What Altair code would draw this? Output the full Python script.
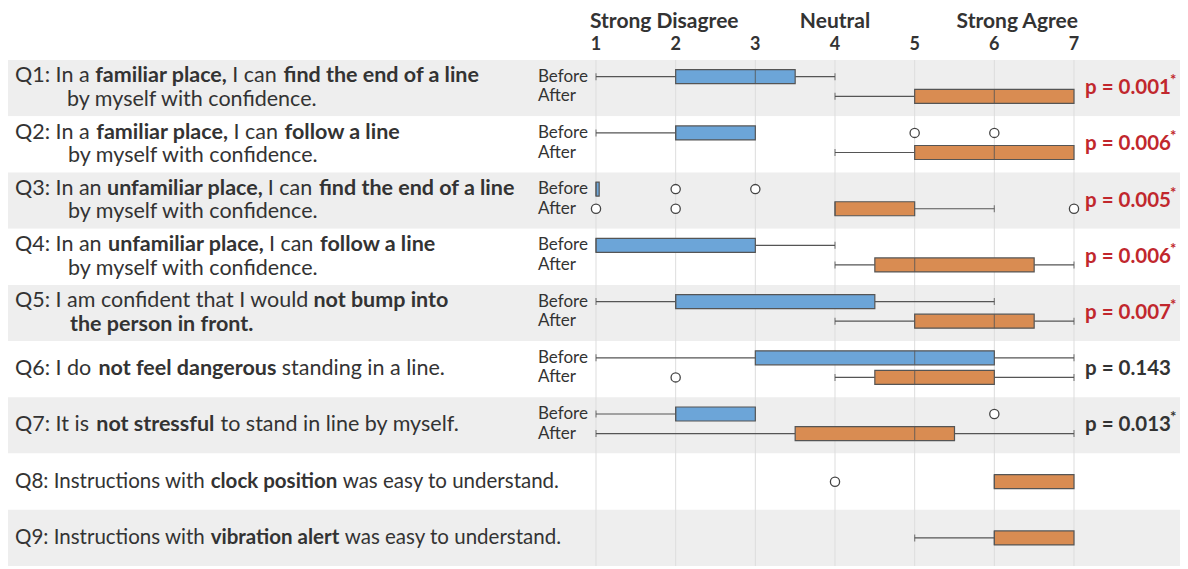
import altair as alt
import pandas as pd

# ---------------- data ----------------
questions = ["Q1", "Q2", "Q3", "Q4", "Q5", "Q6", "Q7", "Q8", "Q9"]

# question wording, split into (text, is_bold) runs per line
question_text = [
    [[("Q1: In a", 0), ("familiar place,", 1), ("I can", 0), ("find the end of a line", 1)],
     [("by myself with confidence.", 0)]],
    [[("Q2: In a", 0), ("familiar place,", 1), ("I can", 0), ("follow a line", 1)],
     [("by myself with confidence.", 0)]],
    [[("Q3: In an", 0), ("unfamiliar place,", 1), ("I can", 0), ("find the end of a line", 1)],
     [("by myself with confidence.", 0)]],
    [[("Q4: In an", 0), ("unfamiliar place,", 1), ("I can", 0), ("follow a line", 1)],
     [("by myself with confidence.", 0)]],
    [[("Q5: I am confident that I would", 0), ("not bump into", 1)],
     [("the person in front.", 1)]],
    [[("Q6: I do", 0), ("not feel dangerous", 1), ("standing in a line.", 0)]],
    [[("Q7: It is", 0), ("not stressful", 1), ("to stand in line by myself.", 0)]],
    [[("Q8: Instructions with", 0), ("clock position", 1), ("was easy to understand.", 0)]],
    [[("Q9: Instructions with", 0), ("vibration alert", 1), ("was easy to understand.", 0)]],
]

# box stats: [whisker_low, q1, median, q3, whisker_high]
before_stats = {
    "Q1": [1, 2, 3, 3.5, 4],
    "Q2": [1, 2, 2, 3, 3],
    "Q3": [1, 1, 1, 1.04, 1.04],
    "Q4": [1, 1, 1, 3, 4],
    "Q5": [1, 2, 2, 4.5, 6],
    "Q6": [1, 3, 5, 6, 7],
    "Q7": [1, 2, 2, 3, 3],
}
after_stats = {
    "Q1": [4, 5, 6, 7, 7],
    "Q2": [4, 5, 6, 7, 7],
    "Q3": [4, 4, 4, 5, 6],
    "Q4": [4, 4.5, 5, 6.5, 7],
    "Q5": [4, 5, 6, 6.5, 7],
    "Q6": [4, 4.5, 5, 6, 7],
    "Q7": [1, 3.5, 5, 5.5, 7],
    "Q8": [6, 6, 6, 7, 7],
    "Q9": [5, 6, 6, 7, 7],
}
before_outliers = {"Q2": [5, 6], "Q3": [2, 3], "Q7": [6]}
after_outliers = {"Q3": [1, 2, 7], "Q6": [2], "Q8": [4]}

p_values = ["0.001", "0.006", "0.005", "0.006", "0.007", "0.143", "0.013"]
p_starred = [True, True, True, True, True, False, True]
p_red = [True, True, True, True, True, False, False]

scale_ticks = [1, 2, 3, 4, 5, 6, 7]
scale_anchors = [("Strong Disagree", 1), ("Neutral", 4), ("Strong Agree", 7)]

# ---------------- layout (pixels, not data) ----------------
W, H, TOP = 1172, 516, 47
X1_PX, X7_PX = 588.0, 1066.0
PPU = (X7_PX - X1_PX) / 6.0
ROW_PX = H / 9.0

def px_to_val(px):
    return 1 + (px - X1_PX) / PPU

X_DOMAIN = [px_to_val(0), px_to_val(W)]
OFF_BEFORE, OFF_AFTER, OFF_SINGLE = 17.0 / ROW_PX, 37.0 / ROW_PX, 0.5
LINE_OFFS = {1: [0.5], 2: [0.29, 0.71]}

row_font = [21.5, 21.5, 21.5, 21.5, 21.5, 21.5, 21.5, 20.5, 20.5]
# run widths measured at 20px, used to chain the runs of a line
seg_w20 = [
    [[69, 122, 42, 182], [232]],
    [[70, 122, 42, 107], [232]],
    [[80, 144, 42, 182], [232]],
    [[81, 144, 42, 107], [232]],
    [[272, 125], [171]],
    [[72, 165, 151]],
    [[70, 110, 221]],
    [[185, 123, 211]],
    [[185, 125, 211]],
]
line_start_px = [[7, 59], [7, 60], [7, 60], [7, 60], [7, 62], [7], [7], [7], [7]]
SPACE_PX = 6.0

FONT = "Lato"
TXT = "#333333"
BLUE, ORANGE = "#6ca5d8", "#d98c52"
EDGE = "#555555"
RED = "#c1272d"

# ---------------- tables ----------------
bg = pd.DataFrame({"row": list(range(9))})
bg["row2"] = bg["row"] + 1
bg["shade"] = ["g" if i % 2 == 0 else "w" for i in range(9)]

def row_offset(q, grp):
    if q in before_stats:
        return OFF_BEFORE if grp == "Before" else OFF_AFTER
    return OFF_SINGLE

box_rows = []
for i, q in enumerate(questions):
    for grp, stats in (("Before", before_stats), ("After", after_stats)):
        if q not in stats:
            continue
        wl, b1, md, b3, wh = stats[q]
        box_rows.append(dict(q=q, group=grp, y=i + row_offset(q, grp),
                             wlo=wl, q1=b1, med=md, q3=b3, whi=wh))
boxes = pd.DataFrame(box_rows)

whisk_rows, cap_rows = [], []
for r in box_rows:
    if r["wlo"] < r["q1"]:
        whisk_rows.append(dict(y=r["y"], a=r["wlo"], b=r["q1"]))
        cap_rows.append(dict(y=r["y"], x=r["wlo"]))
    if r["whi"] > r["q3"]:
        whisk_rows.append(dict(y=r["y"], a=r["q3"], b=r["whi"]))
        cap_rows.append(dict(y=r["y"], x=r["whi"]))
whiskers = pd.DataFrame(whisk_rows)
caps = pd.DataFrame(cap_rows)

out_rows = []
for i, q in enumerate(questions):
    for grp, outs in (("Before", before_outliers), ("After", after_outliers)):
        for v in outs.get(q, []):
            out_rows.append(dict(y=i + row_offset(q, grp), x=v))
outliers = pd.DataFrame(out_rows)

grp_rows = []
for i, q in enumerate(questions):
    if q in before_stats:
        grp_rows.append(dict(label="Before", y=i + OFF_BEFORE, x=1))
        grp_rows.append(dict(label="After", y=i + OFF_AFTER, x=1))
grp_labels = pd.DataFrame(grp_rows)

seg_rows = []
for i, lines in enumerate(question_text):
    offs = LINE_OFFS[len(lines)]
    k = row_font[i] / 20.0
    for li, line in enumerate(lines):
        cur = line_start_px[i][li]
        for si, (txt, bold) in enumerate(line):
            seg_rows.append(dict(text=txt, bold=bold, y=i + offs[li], x=px_to_val(cur), fs=row_font[i]))
            cur += seg_w20[i][li][si] * k + SPACE_PX
segs = pd.DataFrame(seg_rows)

pdf = pd.DataFrame({
    "y": [i + 0.5 for i in range(len(p_values))],
    "x": [7] * len(p_values),
    "text": ["p = " + p for p in p_values],
    "star": ["*" if s else "" for s in p_starred],
    "red": p_red,
})

ticks_df = pd.DataFrame({"v": scale_ticks, "lab": [str(t) for t in scale_ticks],
                         "y0": [0] * 7, "y1": [9] * 7})

# ---------------- chart ----------------
xs = alt.Scale(domain=X_DOMAIN, nice=False, zero=False)
ys = alt.Scale(domain=[0, 9], reverse=True, nice=False, zero=False)

def X(f):
    return alt.X(f, type="quantitative", scale=xs, axis=None)

def Y(f):
    return alt.Y(f, type="quantitative", scale=ys, axis=None)

background = alt.Chart(bg).mark_rect().encode(
    x=alt.value(0), x2=alt.value(W),
    y=Y("row"), y2="row2",
    fill=alt.Fill("shade:N", scale=alt.Scale(domain=["g", "w"], range=["#eeeeee", "#ffffff"]), legend=None),
)

grid = alt.Chart(ticks_df).mark_rule(color="#dddddd", strokeWidth=1).encode(
    x=X("v"), y=Y("y0"), y2="y1",
)

whisker_layer = alt.Chart(whiskers).mark_rule(color=EDGE, strokeWidth=1.2).encode(
    x=X("a"), x2="b", y=Y("y"),
)
cap_layer = alt.Chart(caps).mark_tick(orient="vertical", size=7, thickness=1.2, color=EDGE).encode(
    x=X("x"), y=Y("y"),
)
box_layer = alt.Chart(boxes).mark_bar(size=14, orient="horizontal", stroke=EDGE, strokeWidth=1.2).encode(
    x=X("q1"), x2="q3", y=Y("y"),
    color=alt.Color("group:N", scale=alt.Scale(domain=["Before", "After"], range=[BLUE, ORANGE]), legend=None),
)
median_layer = alt.Chart(boxes).mark_tick(orient="vertical", size=14, thickness=1.2, color=EDGE).encode(
    x=X("med"), y=Y("y"),
)
outlier_layer = alt.Chart(outliers).mark_point(
    shape="circle", size=85, filled=True, color="white", stroke="#444444", strokeWidth=1.3, opacity=1
).encode(x=X("x"), y=Y("y"))

group_text = alt.Chart(grp_labels).mark_text(
    align="left", baseline="middle", dx=-58, font=FONT, fontSize=17, color=TXT
).encode(x=X("x"), y=Y("y"), text="label:N")

q_regular = alt.Chart(segs).transform_filter("datum.bold == 0").mark_text(
    align="left", baseline="middle", font=FONT, color=TXT
).encode(x=X("x"), y=Y("y"), text="text:N", size=alt.Size("fs:Q", scale=None))
q_bold = alt.Chart(segs).transform_filter("datum.bold == 1").mark_text(
    align="left", baseline="middle", font=FONT, fontWeight="bold", color=TXT
).encode(x=X("x"), y=Y("y"), text="text:N", size=alt.Size("fs:Q", scale=None))

p_layers = []
for flag, col in ((True, RED), (False, TXT)):
    sub = alt.Chart(pdf).transform_filter(f"datum.red == {'true' if flag else 'false'}")
    p_layers.append(sub.mark_text(
        align="left", baseline="middle", dx=11, font=FONT, fontSize=20.5, fontWeight="bold", color=col
    ).encode(x=X("x"), y=Y("y"), text="text:N"))
    p_layers.append(sub.mark_text(
        align="left", baseline="middle", dx=96, dy=-8, font=FONT, fontSize=15, fontWeight="bold", color=col
    ).encode(x=X("x"), y=Y("y"), text="star:N"))

tick_labels = alt.Chart(ticks_df).mark_text(
    align="center", baseline="alphabetic", font=FONT, fontSize=18, fontWeight="bold", color=TXT
).encode(x=X("v"), y=alt.value(-5.5), text="lab:N")

anchor_layers = []
for (lab, v), al, dx in zip(scale_anchors, ["left", "center", "right"], [-6, 0, 4]):
    anchor_layers.append(
        alt.Chart(pd.DataFrame({"v": [v], "lab": [lab]})).mark_text(
            align=al, baseline="alphabetic", dx=dx, font=FONT, fontSize=21, fontWeight="bold", color=TXT
        ).encode(x=X("v"), y=alt.value(-27), text="lab:N")
    )

chart = alt.layer(
    background, grid, whisker_layer, cap_layer, box_layer, median_layer, outlier_layer,
    group_text, q_regular, q_bold, *p_layers, tick_labels, *anchor_layers
).properties(
    width=W, height=H,
    autosize=alt.AutoSizeParams(type="none"),
    padding={"top": TOP, "left": 0, "right": 0, "bottom": 0},
).configure_view(stroke=None)

chart.save("out.html", embed_options={"renderer": "svg", "actions": False})
